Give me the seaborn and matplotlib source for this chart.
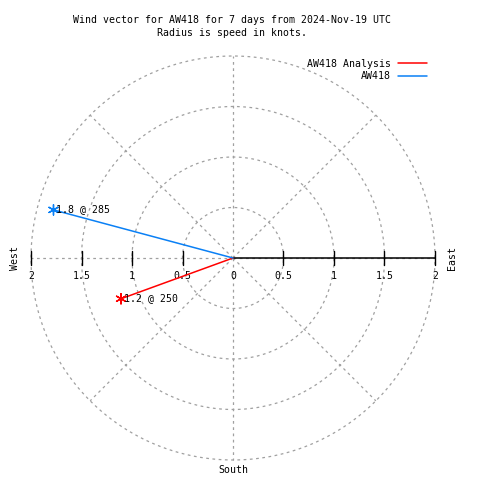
import numpy as np
import pandas as pd
import matplotlib
matplotlib.use("Agg")
import matplotlib.pyplot as plt
import seaborn as sns

# ---- data ----
series = ["AW418 Analysis", "AW418"]
speeds = [1.18, 1.84]          # knots
directions = [250, 285]        # compass degrees
colors = ["#ff0000", "#0a80f5"]
ring_radii = [0.5, 1.0, 1.5, 2.0]
tick_values = [0.5, 1.0, 1.5, 2.0]
title_lines = ["Wind vector for AW418 for 7 days from 2024-Nov-19 UTC",
               "Radius is speed in knots."]

sns.set_theme(style="white")
plt.rcParams["font.family"] = ["DejaVu Sans Mono"]
plt.rcParams["text.color"] = "black"
FS = 7.15

fig = plt.figure(figsize=(4.8, 4.8), dpi=100)
ax = fig.add_axes([0, 0, 1, 1])
scale = 101.0
cx, cy = 233.0, 480 - 258.0
ax.set_xlim(-cx / scale, (480 - cx) / scale)
ax.set_ylim(-cy / scale, (480 - cy) / scale)
ax.set_aspect("equal")
ax.axis("off")

grid_kw = dict(color="#a0a0a0", lw=0.9, ls=(0, (2.2, 2.8)), zorder=1)
rmax = max(ring_radii)
t = np.linspace(0, 2 * np.pi, 400)
for r in ring_radii:
    ax.plot(r * np.cos(t), r * np.sin(t), **grid_kw)
for a in range(0, 360, 45):
    ang = np.deg2rad(a)
    ax.plot([0, rmax * np.cos(ang)], [0, rmax * np.sin(ang)], **grid_kw)

# east axis (solid) and tick marks
ax.plot([0, rmax], [0, 0], color="black", lw=1.1, zorder=2)
tk = 7 / scale
for v in tick_values:
    for sgn in (-1, 1):
        ax.plot([sgn * v, sgn * v], [-tk, tk], color="black", lw=1.0, zorder=2)
# tick labels
lab_y = -18 / scale
ax.text(0, lab_y, "0", ha="center", va="center", fontsize=FS)
for v in tick_values:
    s = f"{v:g}"
    ax.text(-v, lab_y, s, ha="center", va="center", fontsize=FS)
    ax.text(v, lab_y, s, ha="center", va="center", fontsize=FS)

# compass labels
ax.text(-(cx - 15) / scale, 0, "West", rotation=90, ha="center", va="center", fontsize=FS)
ax.text((452 - cx) / scale, 0, "East", rotation=90, ha="center", va="center", fontsize=FS)
ax.text(0, -(470 - 258) / scale, "South", ha="center", va="center", fontsize=FS)

# title
fig.text(232 / 480, 1 - 20 / 480, title_lines[0], ha="center", va="center", fontsize=FS)
fig.text(232 / 480, 1 - 33 / 480, title_lines[1], ha="center", va="center", fontsize=FS)

# ---- vectors ----
rows = []
for name, s, d in zip(series, speeds, directions):
    ang = np.deg2rad(90 - d)
    rows.append(dict(series=name, order=0, x=0.0, y=0.0))
    rows.append(dict(series=name, order=1, x=s * np.cos(ang), y=s * np.sin(ang)))
df = pd.DataFrame(rows)
pal = dict(zip(series, colors))
sns.lineplot(data=df, x="x", y="y", hue="series", palette=pal, sort=False,
             estimator=None, units="series", lw=1.1, ax=ax, zorder=3, legend=True)
tips = df[df["order"] == 1]
sns.scatterplot(data=tips, x="x", y="y", hue="series", palette=pal,
                marker=(6, 2, 0), s=55, linewidth=1.0, ax=ax, zorder=4, legend=False)
for name, s, d, (_, row) in zip(series, speeds, directions, tips.iterrows()):
    ax.text(row["x"] + 3 / scale, row["y"] + 1 / scale, f"{s:.1f} @ {d}",
            ha="left", va="center", fontsize=FS, zorder=5)

ax.legend(loc="upper right", bbox_to_anchor=(432 / 480, 1 - 54 / 480),
          bbox_transform=fig.transFigure, frameon=False, markerfirst=False,
          fontsize=FS, handlelength=2.95, handletextpad=0.7, labelspacing=0.25,
          borderpad=0)

fig.savefig("out.png", dpi=100)
